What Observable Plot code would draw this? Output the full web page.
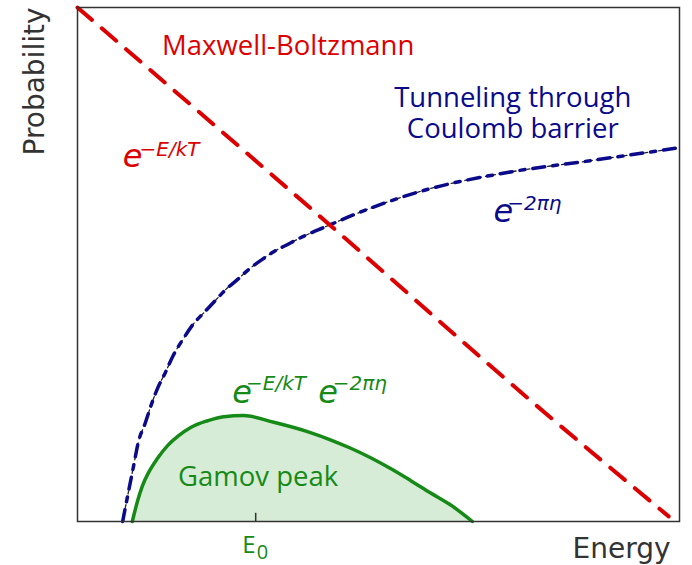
<!DOCTYPE html>
<html><head><meta charset="utf-8">
<script src="https://cdn.jsdelivr.net/npm/d3@7"></script>
<script src="https://cdn.jsdelivr.net/npm/@observablehq/plot@0.6"></script>
<style>body{margin:0;background:#fff}</style>
</head><body><div id="chart"></div>
<script>
// Maxwell-Boltzmann (red dashed)
const mbEnergy = [0, 42, 75.8, 98.2];
const mbProb = [100, 57.6, 23.0, 1.0];
// Tunneling through Coulomb barrier (navy dash-dot)
const tunEnergy = [7.5, 8.5, 9.3, 10.1, 11.3, 12.1, 13.3, 14.6, 15.9, 17.6, 19.3, 20.9, 22.9, 24.6, 26.6, 28.6, 30.7, 32.6, 34.9, 36.7, 38.7, 40.9, 42.5, 44.9, 57.5, 71.4, 85.2, 99.3];
const tunProb = [0, 6.0, 10.7, 15.4, 19.3, 22.2, 25.9, 29.0, 32.3, 35.6, 38.5, 40.5, 43.0, 45.1, 47.1, 49.2, 51.0, 52.5, 53.9, 55.0, 56.1, 57.2, 58.0, 59.2, 64.4, 67.9, 70.2, 72.6];
// Gamov peak (green)
const gamovEnergy = [9.1, 10.0, 10.8, 11.8, 13.3, 15.0, 16.8, 18.8, 21.6, 24.3, 27.6, 32.6, 38.7, 42.0, 45.3, 48.7, 52.0, 55.3, 58.6, 62.0, 65.6];
const gamovProb = [0, 4.1, 7.0, 9.5, 12.3, 14.8, 16.7, 18.3, 19.6, 20.4, 20.6, 19.3, 17.3, 15.9, 14.3, 12.4, 10.3, 8.0, 5.6, 3.2, 0];
// tick
const tickEnergy = [29.6];
const tickLabel = ["E", "0"];
// annotations (data coordinates)
const labelNames = ["Maxwell-Boltzmann", "Tunneling through\nCoulomb barrier", "Gamov peak"];
const labelEnergy = [35.0, 72.3, 30.0];
const labelProb = [90.7, 74.7, 7.0];
const mathBase = ["e", "e", "e", "e"];
const mathBaseEnergy = [7.5, 69.1, 25.7, 40.0];
const mathBaseProb = [68.9, 58.2, 23.0, 23.0];
const mathSup = ["\u2212E/kT", "\u22122\u03c0\u03b7", "\u2212E/kT", "\u22122\u03c0\u03b7"];
const mathSupEnergy = [10.3, 71.4, 28.0, 42.4];
const mathSupProb = [71.2, 60.7, 25.5, 25.5];

const RED = "#dd0000", NAVY = "#0a0a8a", GREEN = "#168a16";
const mathColor = [RED, NAVY, GREEN, GREEN];

const mb = mbEnergy.map((e, i) => ({e, p: mbProb[i]}));
const tun = tunEnergy.map((e, i) => ({e, p: tunProb[i]}));
const gam = gamovEnergy.map((e, i) => ({e, p: gamovProb[i]}));
const labels = labelNames.map((t, i) => ({t, e: labelEnergy[i], p: labelProb[i], c: [RED, NAVY, GREEN][i]}));
const bases = mathBase.map((t, i) => ({t, e: mathBaseEnergy[i], p: mathBaseProb[i], c: mathColor[i]}));
const sups = mathSup.map((t, i) => ({t, e: mathSupEnergy[i], p: mathSupProb[i], c: mathColor[i]}));

const chart = Plot.plot({
  width: 692, height: 565,
  marginLeft: 77, marginRight: 13, marginTop: 7, marginBottom: 44,
  x: {domain: [0, 100], axis: null},
  y: {domain: [0, 100], axis: null},
  style: {background: "white", overflow: "visible"},
  marks: [
    Plot.areaY(gam, {x: "e", y: "p", fill: "#d7ecd7", curve: "monotone-x"}),
    Plot.line(gam, {x: "e", y: "p", stroke: GREEN, strokeWidth: 3.5, curve: "monotone-x"}),
    Plot.line(tun, {x: "e", y: "p", stroke: "#222", strokeWidth: 1.3, strokeDasharray: "3,4", curve: "monotone-x"}),
    Plot.line(tun, {x: "e", y: "p", stroke: NAVY, strokeWidth: 3.5, strokeDasharray: "12,8,5,8", curve: "monotone-x"}),
    Plot.line(mb, {x: "e", y: "p", stroke: RED, strokeWidth: 4, strokeDasharray: "19,13", curve: "monotone-x"}),
    Plot.ruleX(tickEnergy, {y1: 0, y2: 1.6, stroke: "#333", strokeWidth: 1.5}),
    Plot.frame({stroke: "#333", strokeWidth: 1.5}),
    // tick label E0
    Plot.text(tickEnergy, {x: d => d, y: -6.2, text: () => tickLabel[0], textAnchor: "end", dx: 0, lineAnchor: "bottom", fill: GREEN, fontSize: 24, fontFamily: "Open Sans"}),
    Plot.text(tickEnergy, {x: d => d, y: -7.2, text: () => tickLabel[1], textAnchor: "start", dx: 1, lineAnchor: "bottom", fill: GREEN, fontSize: 20, fontFamily: "Open Sans"}),
    // text labels
    Plot.text(labels, {x: "e", y: "p", text: "t", fill: "c", lineAnchor: "bottom", lineHeight: 1.1, fontSize: 27.5, fontFamily: "Open Sans"}),
    Plot.text(bases, {x: "e", y: "p", text: "t", fill: "c", textAnchor: "start", lineAnchor: "bottom", fontSize: 32, fontStyle: "italic", fontFamily: "DejaVu Sans"}),
    Plot.text(sups, {x: "e", y: "p", text: "t", fill: "c", textAnchor: "start", lineAnchor: "bottom", fontSize: 20, fontStyle: "italic", fontFamily: "DejaVu Sans"}),
    // axis titles
    Plot.text(["Probability"], {frameAnchor: "left", textAnchor: "middle", y: 85.6, dx: -42, rotate: -90, fill: "#333", fontSize: 28, fontFamily: "DejaVu Sans"}),
    Plot.text(["Energy"], {frameAnchor: "bottom-right", textAnchor: "end", lineAnchor: "bottom", dx: -9, dy: 36, fill: "#333", fontSize: 28, fontFamily: "DejaVu Sans"})
  ]
});
document.getElementById("chart").appendChild(chart);
</script>
</body></html>
